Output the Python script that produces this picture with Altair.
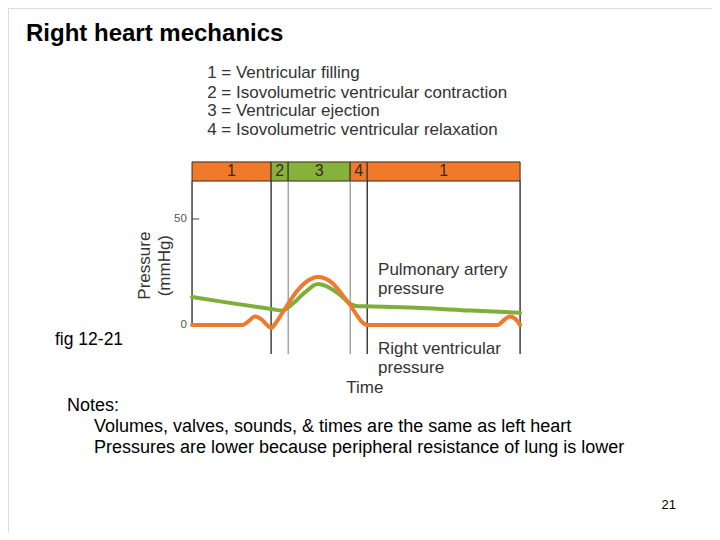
import altair as alt
import pandas as pd

# ---- data ----
# right ventricular pressure (time units 0..100, mmHg)
rv_time = [0, 15.5, 17, 19.2, 21.3, 23.2, 24.1, 25.3, 26.8, 29.3, 31.7, 34.5, 36.6, 38.4,
           40.5, 43, 45.7, 48.2, 50.3, 52.1, 53.4, 70, 93.3, 94.8, 97, 98.8, 100]
rv_press = [0, 0, 1.5, 4, 2.5, -0.5, -1.4, 0.5, 4, 10, 15.5, 20, 22, 22.6,
            22, 19.5, 14.5, 9.5, 4.5, 1, 0, 0, 0, 2, 4, 2.5, 0]
# pulmonary artery pressure
pa_time = [0, 10, 20, 24.1, 27.5, 29.3, 31.7, 34.5, 38.4, 42, 45.7, 48.2, 50, 53.4, 70, 85, 100]
pa_press = [13.2, 10.8, 8.5, 7.6, 6.8, 8.2, 11.5, 15.5, 19.3, 17.5, 13.5, 10, 9, 8.8, 8, 6.8, 5.8]

# phases
phase_start = [0, 24.1, 29.3, 48.2, 53.4]
phase_end = [24.1, 29.3, 48.2, 53.4, 100]
phase_label = ["1", "2", "3", "4", "1"]
phase_kind = ["o", "g", "g", "o", "o"]

boundary_t = [24.1, 29.3, 48.2, 53.4, 100]
boundary_kind = ["dark", "light", "light", "dark", "dark"]

legend_lines = ["1 = Ventricular filling",
                "2 = Isovolumetric ventricular contraction",
                "3 = Ventricular ejection",
                "4 = Isovolumetric ventricular relaxation"]
tick_values = [0, 50]
tick_labels = ["0", "50"]

notes = ["Volumes, valves, sounds, & times are the same as left heart",
         "Pressures are lower because peripheral resistance of lung is lower"]

ORANGE = "#EE7A2E"
GREEN = "#7FAE3B"
BAND_ORANGE = "#EF7A2C"
BAND_GREEN = "#86B23C"
FONT = "Liberation Sans"

xs = alt.Scale(domain=[-56.1, 158.5], nice=False, zero=False)
ys = alt.Scale(domain=[-97.6, 149.5], nice=False, zero=False)
X = lambda f: alt.X(f, type="quantitative", scale=xs, axis=None)
Y = lambda f: alt.Y(f, type="quantitative", scale=ys, axis=None)

BAND_LO, BAND_HI = 67.9, 76.9

rv_df = pd.DataFrame({"t": rv_time, "p": rv_press})
pa_df = pd.DataFrame({"t": pa_time, "p": pa_press})
ph_df = pd.DataFrame({"s": phase_start, "e": phase_end, "lab": phase_label, "k": phase_kind,
                      "lo": BAND_LO, "hi": BAND_HI})
ph_df["mid"] = (ph_df["s"] + ph_df["e"]) / 2
ph_df["ym"] = (BAND_LO + BAND_HI) / 2
bd_df = pd.DataFrame({"t": boundary_t, "k": boundary_kind, "lo": -13.7, "hi": BAND_LO})

band = alt.Chart(ph_df).mark_rect(stroke="#3a2a20", strokeWidth=1).encode(
    x=X("s"), x2="e", y=Y("lo"), y2="hi",
    fill=alt.Fill("k:N", scale=alt.Scale(domain=["o", "g"], range=[BAND_ORANGE, BAND_GREEN]), legend=None))
band_text = alt.Chart(ph_df).mark_text(fontSize=16, font=FONT, color="#3a2a20", baseline="middle").encode(
    x=X("mid"), y=Y("ym"), text="lab:N")

rules = alt.Chart(bd_df).mark_rule().encode(
    x=X("t"), y=Y("lo"), y2="hi",
    color=alt.Color("k:N", scale=alt.Scale(domain=["dark", "light"], range=["#222222", "#777777"]), legend=None),
    strokeWidth=alt.StrokeWidth("k:N", scale=alt.Scale(domain=["dark", "light"], range=[1.3, 1.0]), legend=None))

axis_df = pd.DataFrame({"t": [0], "lo": [0], "hi": [BAND_LO]})
axis_line = alt.Chart(axis_df).mark_rule(color="#222222", strokeWidth=1.3).encode(
    x=X("t"), y=Y("lo"), y2="hi")
tick_df = pd.DataFrame({"v": tick_values, "lab": tick_labels, "t0": 0, "t1": 2.2, "tl": -1.6})
ticks = alt.Chart(tick_df).mark_rule(color="#444444", strokeWidth=1).encode(
    x=X("t0"), x2="t1", y=Y("v"))
tick_text = alt.Chart(tick_df).mark_text(fontSize=11.5, font=FONT, color="#555555", align="right",
                                        baseline="middle").encode(x=X("tl"), y=Y("v"), text="lab:N")

pa_line = alt.Chart(pa_df).mark_line(color=GREEN, strokeWidth=4, interpolate="monotone",
                                     strokeCap="round").encode(x=X("t"), y=Y("p"))
rv_line = alt.Chart(rv_df).mark_line(color=ORANGE, strokeWidth=4, interpolate="monotone",
                                     strokeCap="round").encode(x=X("t"), y=Y("p"))

# annotations in data units
ann_df = pd.DataFrame({
    "t": [56.7, 56.7, 56.7, 56.7],
    "v": [25.9, 17.0, -11.3, -20.3],
    "txt": ["Pulmonary artery", "pressure", "Right ventricular", "pressure"]})
ann = alt.Chart(ann_df).mark_text(fontSize=17, font=FONT, color="#333333", align="left",
                                  baseline="middle").encode(x=X("t"), y=Y("v"), text="txt:N")
time_df = pd.DataFrame({"t": [52.7], "v": [-29.8], "txt": ["Time"]})
time_lab = alt.Chart(time_df).mark_text(fontSize=17, font=FONT, color="#333333", align="center",
                                        baseline="middle").encode(x=X("t"), y=Y("v"), text="txt:N")
ylab_df = pd.DataFrame({"t": [-14.4, -8.3], "v": [28.0, 28.0], "txt": ["Pressure", "(mmHg)"]})
ylab = alt.Chart(ylab_df).mark_text(fontSize=17, font=FONT, color="#333333", align="center",
                                    baseline="middle", angle=270).encode(x=X("t"), y=Y("v"), text="txt:N")

leg_df = pd.DataFrame({"t": [4.6] * 4, "v": [118.9, 109.6, 100.9, 92.0], "txt": legend_lines})
leg = alt.Chart(leg_df).mark_text(fontSize=17, font=FONT, color="#333333", align="left",
                                  baseline="middle").encode(x=X("t"), y=Y("v"), text="txt:N")

# page-level texts
title = alt.Chart(pd.DataFrame({"a": [0]})).mark_text(
    text="Right heart mechanics", fontSize=24, fontWeight="bold", font=FONT, color="#000000",
    align="left", baseline="middle").encode(x=alt.value(18), y=alt.value(26))
fig = alt.Chart(pd.DataFrame({"a": [0]})).mark_text(
    text="fig 12-21", fontSize=17.5, font=FONT, color="#000000",
    align="left", baseline="middle").encode(x=alt.value(47), y=alt.value(332))
notes_head = alt.Chart(pd.DataFrame({"a": [0]})).mark_text(
    text="Notes:", fontSize=18, font=FONT, color="#000000",
    align="left", baseline="middle").encode(x=alt.value(59), y=alt.value(398))
notes_df = pd.DataFrame({"txt": notes, "yy": [419, 440]})
notes_txt = alt.Chart(notes_df).mark_text(fontSize=18, font=FONT, color="#000000", align="left",
                                          baseline="middle").encode(
    x=alt.value(86), y=alt.Y("yy:Q", scale=None), text="txt:N")
page = alt.Chart(pd.DataFrame({"a": [0]})).mark_text(
    text="21", fontSize=13, font=FONT, color="#000000",
    align="right", baseline="middle").encode(x=alt.value(668), y=alt.value(497))

chart = alt.layer(band, rules, axis_line, ticks, tick_text, pa_line, rv_line, band_text,
                  ann, time_lab, ylab, leg, title, fig, notes_head, notes_txt, page).properties(
    width=704, height=524, padding=0
).resolve_scale(color="independent").configure_view(stroke=None).configure(background="white")

chart.save("out.html", embed_options={"renderer": "svg", "actions": False})
